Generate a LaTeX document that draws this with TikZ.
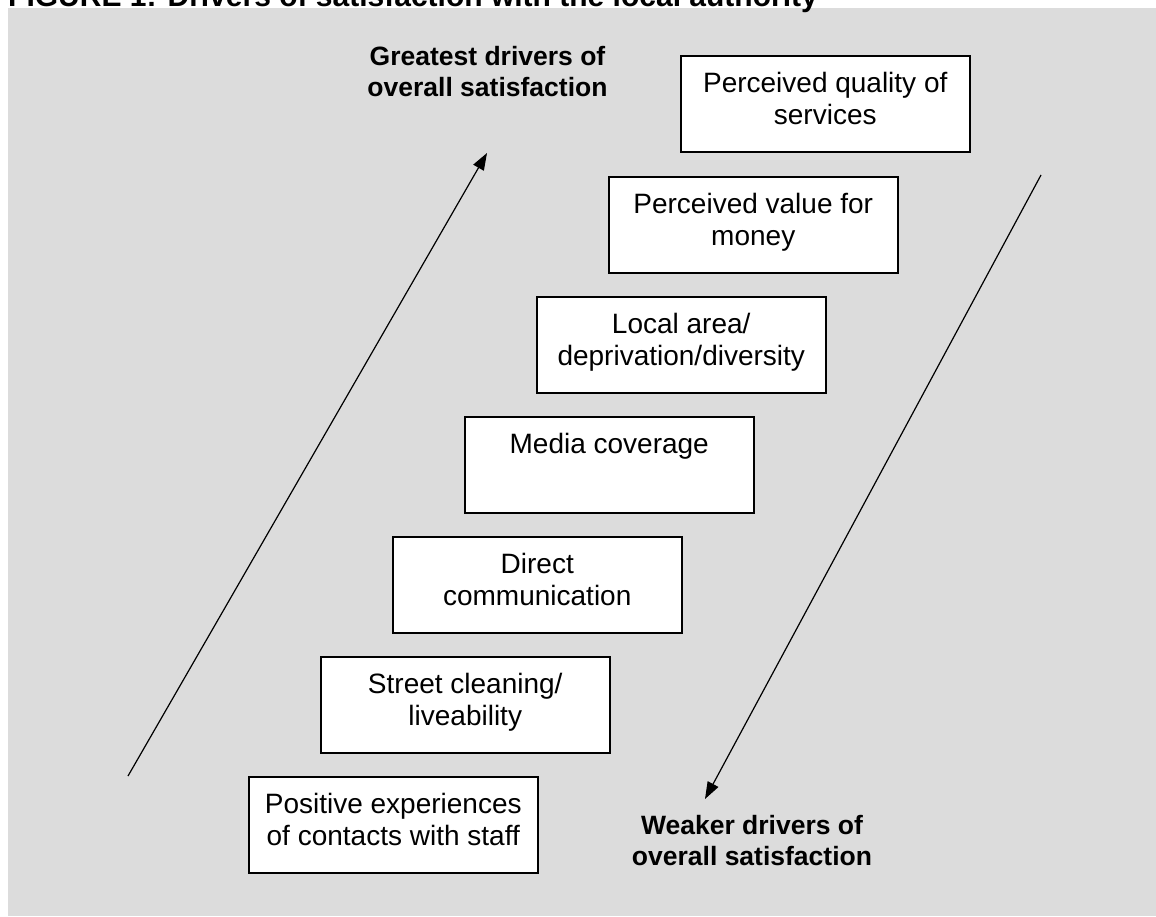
\documentclass[tikz,border=0pt]{standalone}
\usepackage{fontspec}
\setmainfont{Liberation Sans}
\usetikzlibrary{arrows.meta}
\definecolor{bggrey}{RGB}{220,220,220}
\newcommand\boxtxt[1]{\parbox[t][96pt][t]{289pt}{\centering\fontsize{28}{31.5}\selectfont\rule{0pt}{37pt}#1\par}}
\newcommand\lbltxt[1]{\parbox[t]{320pt}{\centering\fontsize{26.5}{31}\selectfont\bfseries #1\par}}
\begin{document}
\begin{tikzpicture}[x=1pt,y=-1pt,
  driverbox/.style={draw,fill=white,line width=1.5pt,inner sep=0pt,anchor=north west},
  lbl/.style={inner sep=0pt,anchor=base},
  trend/.style={line width=1.2pt,-{Triangle[length=17pt,width=12pt]}}]
\useasboundingbox (0,0) rectangle (1156,916);
\fill[bggrey] (8,8) rectangle (1156,916);
\node[inner sep=0pt,anchor=base west] (title) at (8,6.5)
  {\fontsize{30}{34}\selectfont\bfseries FIGURE 1: Drivers of satisfaction with the local authority};
\node[driverbox] (q) at (680,55)  {\boxtxt{Perceived quality of\\services}};
\node[driverbox] (v) at (608,176) {\boxtxt{Perceived value for\\money}};
\node[driverbox] (l) at (536,296) {\boxtxt{Local area/\\deprivation/diversity}};
\node[driverbox] (m) at (464,416) {\boxtxt{Media coverage}};
\node[driverbox] (d) at (392,536) {\boxtxt{Direct\\communication}};
\node[driverbox] (s) at (320,656) {\boxtxt{Street cleaning/\\liveability}};
\node[driverbox] (p) at (248,776) {\boxtxt{Positive experiences\\of contacts with staff}};
\node[lbl] (great) at (487.5,65.7) {\lbltxt{Greatest drivers of\\overall satisfaction}};
\node[lbl] (weak) at (752,834) {\lbltxt{Weaker drivers of\\overall satisfaction}};
\coordinate (upS) at (128,776);
\coordinate (upE) at (487,153);
\coordinate (dnS) at (1041,175);
\coordinate (dnE) at (705,799);
\draw[trend] (upS) -- (upE);
\draw[trend] (dnS) -- (dnE);
\end{tikzpicture}
\end{document}
